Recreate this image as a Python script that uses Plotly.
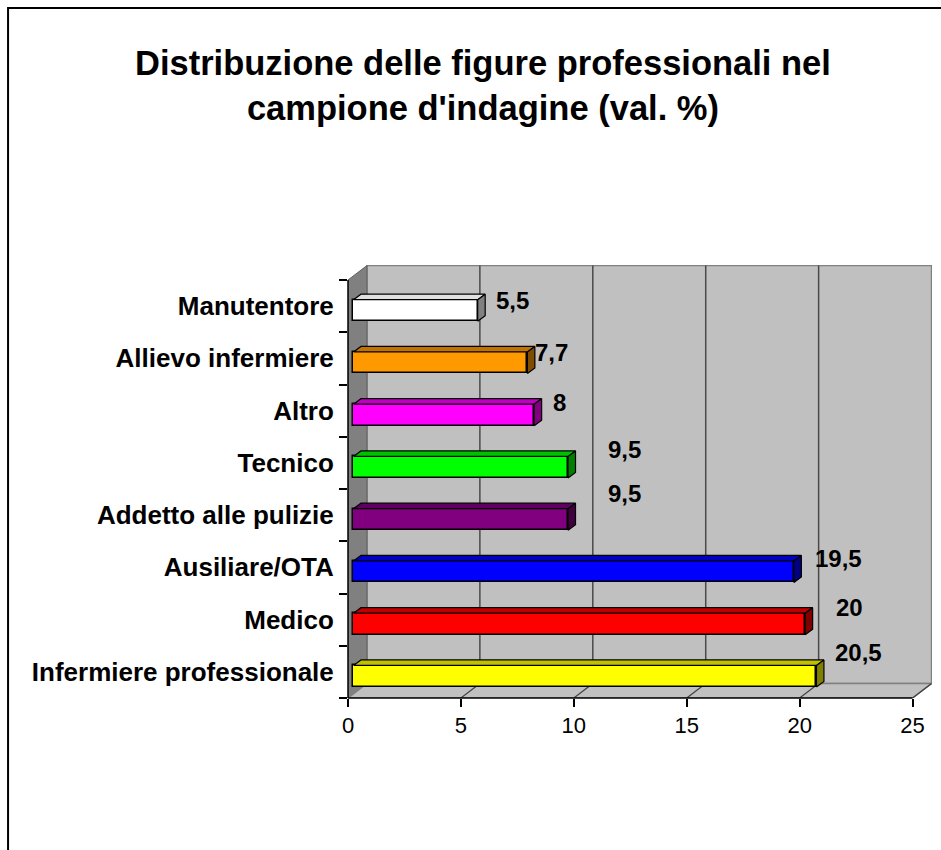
import plotly.graph_objects as go

# ---------------- data ----------------
categories = ["Infermiere professionale", "Medico", "Ausiliare/OTA", "Addetto alle pulizie",
              "Tecnico", "Altro", "Allievo infermiere", "Manutentore"]
values = [20.5, 20, 19.5, 9.5, 9.5, 8, 7.7, 5.5]
value_labels = ["20,5", "20", "19,5", "9,5", "9,5", "8", "7,7", "5,5"]
x_ticks = [0, 5, 10, 15, 20, 25]
title_text = "Distribuzione delle figure professionali nel<br>campione d'indagine (val. %)"

# ---------------- style ----------------
front_colors = ["#FFFF00", "#FF0000", "#0000FF", "#800080", "#00FF00", "#FF00FF", "#FF9900", "#FFFFFF"]
top_colors = ["#C0C000", "#C00000", "#0000C0", "#600060", "#00C000", "#C000C0", "#C07300", "#E0E0E0"]
side_colors = ["#808000", "#800000", "#000080", "#400040", "#008000", "#800080", "#804C00", "#808080"]
# pixel offsets of the value labels from (value, category)
label_shifts = [(48, 19), (50, 12), (50, 9), (62, 22), (62, 13), (31, 8), (30, 6), (40, 6)]

W, H = 941, 850
PX_X = 22.62          # px per unit on x
PX_Y = 52.25          # px per category
LEFT = 347.5          # px of x=0 (front)
BOTTOM = 698          # px of front axis
WALL_DX, WALL_DY = 19, 14.5     # px depth of the walls
BAR_DX, BAR_DY = 5.5, 4.3       # px offset of bar front faces
FACE_DX, FACE_DY = 7.5, 5.5     # px depth of the bars
BAR_H = 21.5                     # px bar thickness
FONT = "Liberation Sans, Arial"

ux, uy = 1 / PX_X, 1 / PX_Y
ncat = len(categories)
xmax = x_ticks[-1] + WALL_DX * ux + 0.02
ymin = -0.5
ymax = ncat - 0.5 + WALL_DY * uy + 0.01
plot_w = xmax * PX_X
plot_h = (ymax - ymin) * PX_Y
m_l, m_b = LEFT, H - BOTTOM
m_r = W - m_l - plot_w
m_t = H - m_b - plot_h


def paper_x(px):
    return (px - m_l) / plot_w


def paper_y(py):
    return (H - m_b - py) / plot_h


wdx, wdy = WALL_DX * ux, WALL_DY * uy
shapes = []
# back wall
shapes.append(dict(type="rect", xref="x", yref="y", x0=wdx, x1=x_ticks[-1] + wdx,
                   y0=ymin + wdy, y1=ncat - 0.5 + wdy, fillcolor="#C0C0C0",
                   line=dict(color="#808080", width=1.5), layer="below"))
# left wall
shapes.append(dict(type="path", xref="x", yref="y",
                   path=f"M 0 {ymin} L {wdx} {ymin + wdy} L {wdx} {ncat - 0.5 + wdy} L 0 {ncat - 0.5} Z",
                   fillcolor="#808080", line=dict(color="#606060", width=1), layer="below"))
# floor
shapes.append(dict(type="path", xref="x", yref="y",
                   path=f"M 0 {ymin} L {x_ticks[-1]} {ymin} L {x_ticks[-1] + wdx} {ymin + wdy} L {wdx} {ymin + wdy} Z",
                   fillcolor="#C0C0C0", line=dict(color="#808080", width=1.5), layer="below"))
# gridlines on back wall + floor diagonals
for t in x_ticks[1:-1]:
    shapes.append(dict(type="line", xref="x", yref="y", x0=t + wdx, x1=t + wdx,
                       y0=ymin + wdy, y1=ncat - 0.5 + wdy, line=dict(color="#4A4A4A", width=1.5), layer="below"))
for t in x_ticks[1:]:
    shapes.append(dict(type="line", xref="x", yref="y", x0=t, x1=t + wdx,
                       y0=ymin, y1=ymin + wdy, line=dict(color="#404040", width=1.2), layer="below"))
# front axes lines
shapes.append(dict(type="line", xref="x", yref="paper", x0=0, x1=x_ticks[-1], y0=0, y1=0,
                   line=dict(color="black", width=1.5)))
shapes.append(dict(type="line", xref="paper", yref="y", x0=0, x1=0, y0=ymin, y1=ncat - 0.5,
                   line=dict(color="black", width=1.5)))
# outer frame
shapes.append(dict(type="rect", xref="paper", yref="paper", x0=paper_x(7), x1=paper_x(W + 30),
                   y0=paper_y(H + 30), y1=paper_y(8), line=dict(color="black", width=2),
                   fillcolor="rgba(0,0,0,0)"))

fig = go.Figure()

b0 = BAR_DX * ux
yc = [i - BAR_DY * uy for i in range(ncat)]
hh = BAR_H / 2 * uy
fdx, fdy = FACE_DX * ux, FACE_DY * uy

fig.add_trace(go.Bar(
    x=values, y=yc, base=b0, orientation="h", width=BAR_H * uy,
    marker=dict(color=front_colors, line=dict(color="black", width=1.5)),
    hoverinfo="skip", showlegend=False))

for i, v in enumerate(values):
    top = yc[i] + hh
    bot = yc[i] - hh
    # top face
    fig.add_trace(go.Scatter(
        x=[b0, b0 + v, b0 + v + fdx, b0 + fdx, b0],
        y=[top, top, top + fdy, top + fdy, top],
        fill="toself", fillcolor=top_colors[i], mode="lines",
        line=dict(color="black", width=1.2), hoverinfo="skip", showlegend=False))
    # side face
    fig.add_trace(go.Scatter(
        x=[b0 + v, b0 + v, b0 + v + fdx, b0 + v + fdx, b0 + v],
        y=[bot, top, top + fdy, bot + fdy, bot],
        fill="toself", fillcolor=side_colors[i], mode="lines",
        line=dict(color="black", width=1.2), hoverinfo="skip", showlegend=False))

annotations = []
for i, (v, lab) in enumerate(zip(values, value_labels)):
    sx, sy = label_shifts[i]
    annotations.append(dict(x=v, y=i, xref="x", yref="y", text=f"<b>{lab}</b>", showarrow=False,
                            xshift=sx, yshift=sy, xanchor="center", yanchor="middle",
                            font=dict(family=FONT, size=24, color="black")))

annotations.append(dict(x=paper_x(483), y=paper_y(85), xref="paper", yref="paper",
                        text=f"<b>{title_text}</b>", showarrow=False, xanchor="center", yanchor="middle",
                        font=dict(family=FONT, size=34.5, color="black")))

fig.update_layout(
    width=W, height=H,
    margin=dict(l=m_l, r=m_r, t=m_t, b=m_b, pad=0),
    paper_bgcolor="white", plot_bgcolor="white",
    shapes=shapes, annotations=annotations,
    bargap=0, showlegend=False,
    xaxis=dict(range=[0, xmax], tickvals=x_ticks, ticktext=[str(t) for t in x_ticks],
               showgrid=False, zeroline=False, showline=False,
               ticks="outside", ticklen=8, tickwidth=1.5, tickcolor="black",
               tickfont=dict(family=FONT, size=22, color="black"),
               fixedrange=True),
    yaxis=dict(range=[ymin, ymax], tickvals=list(range(ncat)),
               ticktext=[f"<b>{c}</b>" for c in categories],
               showgrid=False, zeroline=False, showline=False,
               ticks="outside", ticklen=8, tickcolor="rgba(0,0,0,0)",
               minor=dict(tickvals=[k - 0.5 for k in range(ncat + 1)], ticks="outside",
                          ticklen=8, tickwidth=1.5, tickcolor="black"),
               tickfont=dict(family=FONT, size=26, color="black"),
               fixedrange=True),
)

fig.write_html("out.html", config={"displayModeBar": False},
               post_script="document.body.style.margin='0';document.body.style.overflow='hidden';")
